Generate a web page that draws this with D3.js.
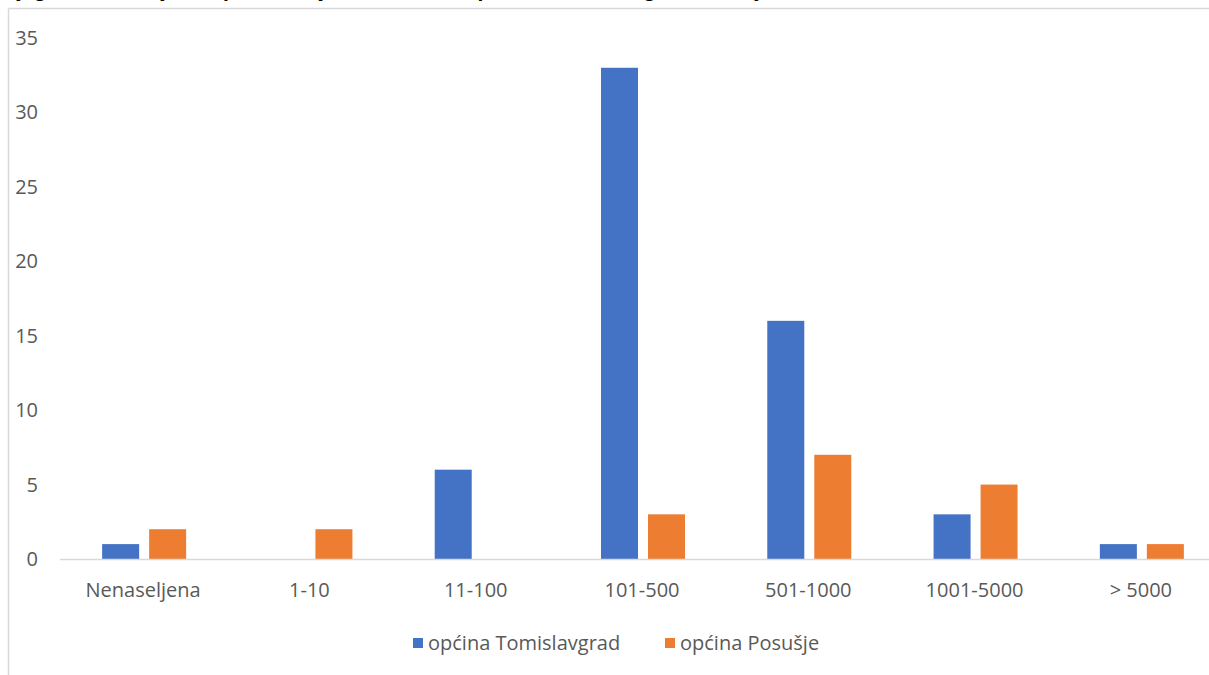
<!DOCTYPE html>
<html>
<head>
<meta charset="utf-8">
<script src="https://cdn.jsdelivr.net/npm/d3@7"></script>
<style>
  html, body { margin: 0; padding: 0; background: #ffffff; }
  svg { display: block; }
</style>
</head>
<body>
<svg id="chart" width="1209" height="675"></svg>
<script>
// Settlement size classes and counts per municipality
const categories = ["Nenaseljena", "1-10", "11-100", "101-500", "501-1000", "1001-5000", "> 5000"];
const seriesNames = ["općina Tomislavgrad", "općina Posušje"];
const tomislavgrad = [1, 0, 6, 33, 16, 3, 1];
const posusje = [2, 2, 0, 3, 7, 5, 1];
const yTicks = [0, 5, 10, 15, 20, 25, 30, 35];
const titleText = "Dijagram 4. Naseljenost prema broju stanovnika u općinama Tomislavgrad i Posušje";

const colors = ["#4472c4", "#ed7d31"];
const font = "'Open Sans', 'Noto Sans', sans-serif";
const textColor = "#595959";
const fs = 20;

const svg = d3.select("#chart");
const W = 1209, H = 675;

// Chart frame (top and left border of the chart area)
svg.append("line").attr("x1", 8.5).attr("x2", W).attr("y1", 8.5).attr("y2", 8.5)
  .attr("stroke", "#d9d9d9").attr("stroke-width", 1.5);
svg.append("line").attr("x1", 8.5).attr("x2", 8.5).attr("y1", 8.5).attr("y2", H)
  .attr("stroke", "#d9d9d9").attr("stroke-width", 1.5);

// Title sitting above the frame, running off the top of the page
svg.append("text")
  .attr("x", 0).attr("y", -4)
  .attr("font-family", font).attr("font-size", 19.5)
  .attr("font-weight", "bold").attr("font-style", "italic")
  .attr("fill", "#000")
  .text(titleText);

const x = d3.scaleBand().domain(categories).range([60, 1224]).padding(0);
const y = d3.scaleLinear().domain([0, 35]).range([559, 38]);

const barW = 37;
const offsets = [-41, 6];
const series = [tomislavgrad, posusje];

series.forEach((vals, si) => {
  svg.append("g").selectAll("rect")
    .data(vals)
    .join("rect")
    .attr("x", (d, i) => x(categories[i]) + x.bandwidth() / 2 + offsets[si])
    .attr("width", barW)
    .attr("y", d => y(d))
    .attr("height", d => y(0) - y(d))
    .attr("fill", colors[si]);
});

// Category axis baseline
svg.append("line")
  .attr("x1", x.range()[0]).attr("x2", x.range()[1])
  .attr("y1", y(0) + 0.5).attr("y2", y(0) + 0.5)
  .attr("stroke", "#d9d9d9").attr("stroke-width", 1.5);

// Category labels
svg.append("g").selectAll("text")
  .data(categories)
  .join("text")
  .attr("x", d => x(d) + x.bandwidth() / 2)
  .attr("y", 597)
  .attr("text-anchor", "middle")
  .attr("font-family", font).attr("font-size", fs)
  .attr("fill", textColor)
  .text(d => d);

// Value labels
svg.append("g").selectAll("text")
  .data(yTicks)
  .join("text")
  .attr("x", 38)
  .attr("y", d => y(d) + 7)
  .attr("text-anchor", "end")
  .attr("font-family", font).attr("font-size", fs)
  .attr("fill", textColor)
  .text(d => d);

// Legend
const legendItems = [
  { name: seriesNames[0], color: colors[0], x: 413 },
  { name: seriesNames[1], color: colors[1], x: 665 }
];
const lg = svg.append("g").selectAll("g").data(legendItems).join("g");
lg.append("rect")
  .attr("x", d => d.x).attr("y", 638)
  .attr("width", 10).attr("height", 10)
  .attr("fill", d => d.color);
lg.append("text")
  .attr("x", d => d.x + 15).attr("y", 650)
  .attr("font-family", font).attr("font-size", fs)
  .attr("fill", textColor)
  .text(d => d.name);
</script>
</body>
</html>
